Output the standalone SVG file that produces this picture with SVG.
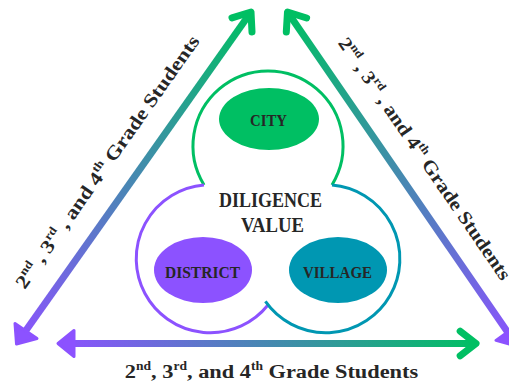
<svg xmlns="http://www.w3.org/2000/svg" width="509" height="387" viewBox="0 0 509 387">
<style>
.lbl{font-family:"Liberation Serif","Times New Roman",serif;font-weight:bold;fill:#262626}
.big{font-size:19px}
.sup{font-size:11.5px}
.ring{fill:none;stroke-width:3}
.shaft{fill:none;stroke-width:7;stroke-linecap:butt}
.chev{fill:none;stroke-width:7;stroke-linecap:round;stroke-linejoin:round}
.tri{stroke-width:3;stroke-linejoin:round}
</style>
<defs>
<linearGradient id="gL" gradientUnits="userSpaceOnUse" x1="250" y1="12" x2="16" y2="344">
<stop offset="0" stop-color="#00bf63"/><stop offset="1" stop-color="#8c52ff"/>
</linearGradient>
<linearGradient id="gR" gradientUnits="userSpaceOnUse" x1="288" y1="12" x2="517" y2="345">
<stop offset="0" stop-color="#00bf63"/><stop offset="1" stop-color="#8c52ff"/>
</linearGradient>
<linearGradient id="gB" gradientUnits="userSpaceOnUse" x1="60" y1="0" x2="476" y2="0">
<stop offset="0" stop-color="#8c52ff"/><stop offset="1" stop-color="#00bf63"/>
</linearGradient>
</defs>

<g id="connectors">
<path class="shaft" stroke="url(#gL)" d="M251 12 L22 336"/>
<polyline class="chev" stroke="#00bf63" points="232,17.8 251,12 252,32"/>
<polygon class="tri" fill="#8c52ff" stroke="#8c52ff" points="16.5,344 15,323.5 37,338.5"/>

<path class="shaft" stroke="url(#gR)" d="M287.5 12 L511 337"/>
<polyline class="chev" stroke="#00bf63" points="306.6,18 287.5,12 286.3,32"/>
<polygon class="tri" fill="#8c52ff" stroke="#8c52ff" points="516,346 496,340.4 517.3,325"/>

<path class="shaft" stroke="url(#gB)" d="M66 343.5 L475 343.5"/>
<polyline class="chev" stroke="#00bf63" points="460.2,331.2 476,343.5 460.2,355.8"/>
<polygon class="tri" fill="#8c52ff" stroke="#8c52ff" points="58,343.5 74,330.5 74,356.5"/>
</g>

<g id="label-left">
<text class="lbl big" text-anchor="middle" transform="translate(112.5,165.5) rotate(-54.8) scale(1.177,1)">2<tspan class="sup" dy="-8">nd</tspan><tspan dy="8"> , 3</tspan><tspan class="sup" dy="-8">rd</tspan><tspan dy="8"> , and 4</tspan><tspan class="sup" dy="-8">th</tspan><tspan dy="8"> Grade Students</tspan></text>
</g>
<g id="label-right">
<text class="lbl big" text-anchor="middle" transform="translate(419.5,162.3) rotate(55.5) scale(1.12,1)">2<tspan class="sup" dy="-8">nd</tspan><tspan dy="8"> , 3</tspan><tspan class="sup" dy="-8">rd</tspan><tspan dy="8"> , and 4</tspan><tspan class="sup" dy="-8">th</tspan><tspan dy="8"> Grade Students</tspan></text>
</g>
<g id="label-bottom">
<text class="lbl big" text-anchor="middle" transform="translate(271.5,378) scale(1.177,1)">2<tspan class="sup" dy="-8">nd</tspan><tspan dy="8">, 3</tspan><tspan class="sup" dy="-8">rd</tspan><tspan dy="8">, and 4</tspan><tspan class="sup" dy="-8">th</tspan><tspan dy="8"> Grade Students</tspan></text>
</g>

<g id="ring-city">
<path class="ring" stroke="#00bf63" d="M204 185 A75 75 0 1 1 332 185"/>
</g>
<g id="ring-district">
<path class="ring" stroke="#8c52ff" d="M204 185 A74 74 0 1 0 268 305"/>
</g>
<g id="ring-village">
<path class="ring" stroke="#0097b2" d="M332 185 A74 74 0 1 1 265.4 301.4"/>
</g>

<g id="center">
<text class="lbl" font-size="20" x="270.5" y="207" text-anchor="middle" textLength="103" lengthAdjust="spacingAndGlyphs">DILIGENCE</text>
<text class="lbl" font-size="20" x="272.5" y="232" text-anchor="middle" textLength="63" lengthAdjust="spacingAndGlyphs">VALUE</text>
</g>

<g id="city">
<ellipse cx="269" cy="119" rx="50" ry="31" fill="#00bf63"/>
<text class="lbl" font-size="16.5" x="268.5" y="126" text-anchor="middle" textLength="37" lengthAdjust="spacingAndGlyphs">CITY</text>
</g>
<g id="district">
<ellipse cx="203" cy="270" rx="49" ry="33" fill="#8c52ff"/>
<text class="lbl" font-size="16.5" x="202.5" y="278" text-anchor="middle" textLength="75" lengthAdjust="spacingAndGlyphs">DISTRICT</text>
</g>
<g id="village">
<ellipse cx="338" cy="270" rx="49" ry="33" fill="#0097b2"/>
<text class="lbl" font-size="16.5" x="337.5" y="278" text-anchor="middle" textLength="69" lengthAdjust="spacingAndGlyphs">VILLAGE</text>
</g>
</svg>
